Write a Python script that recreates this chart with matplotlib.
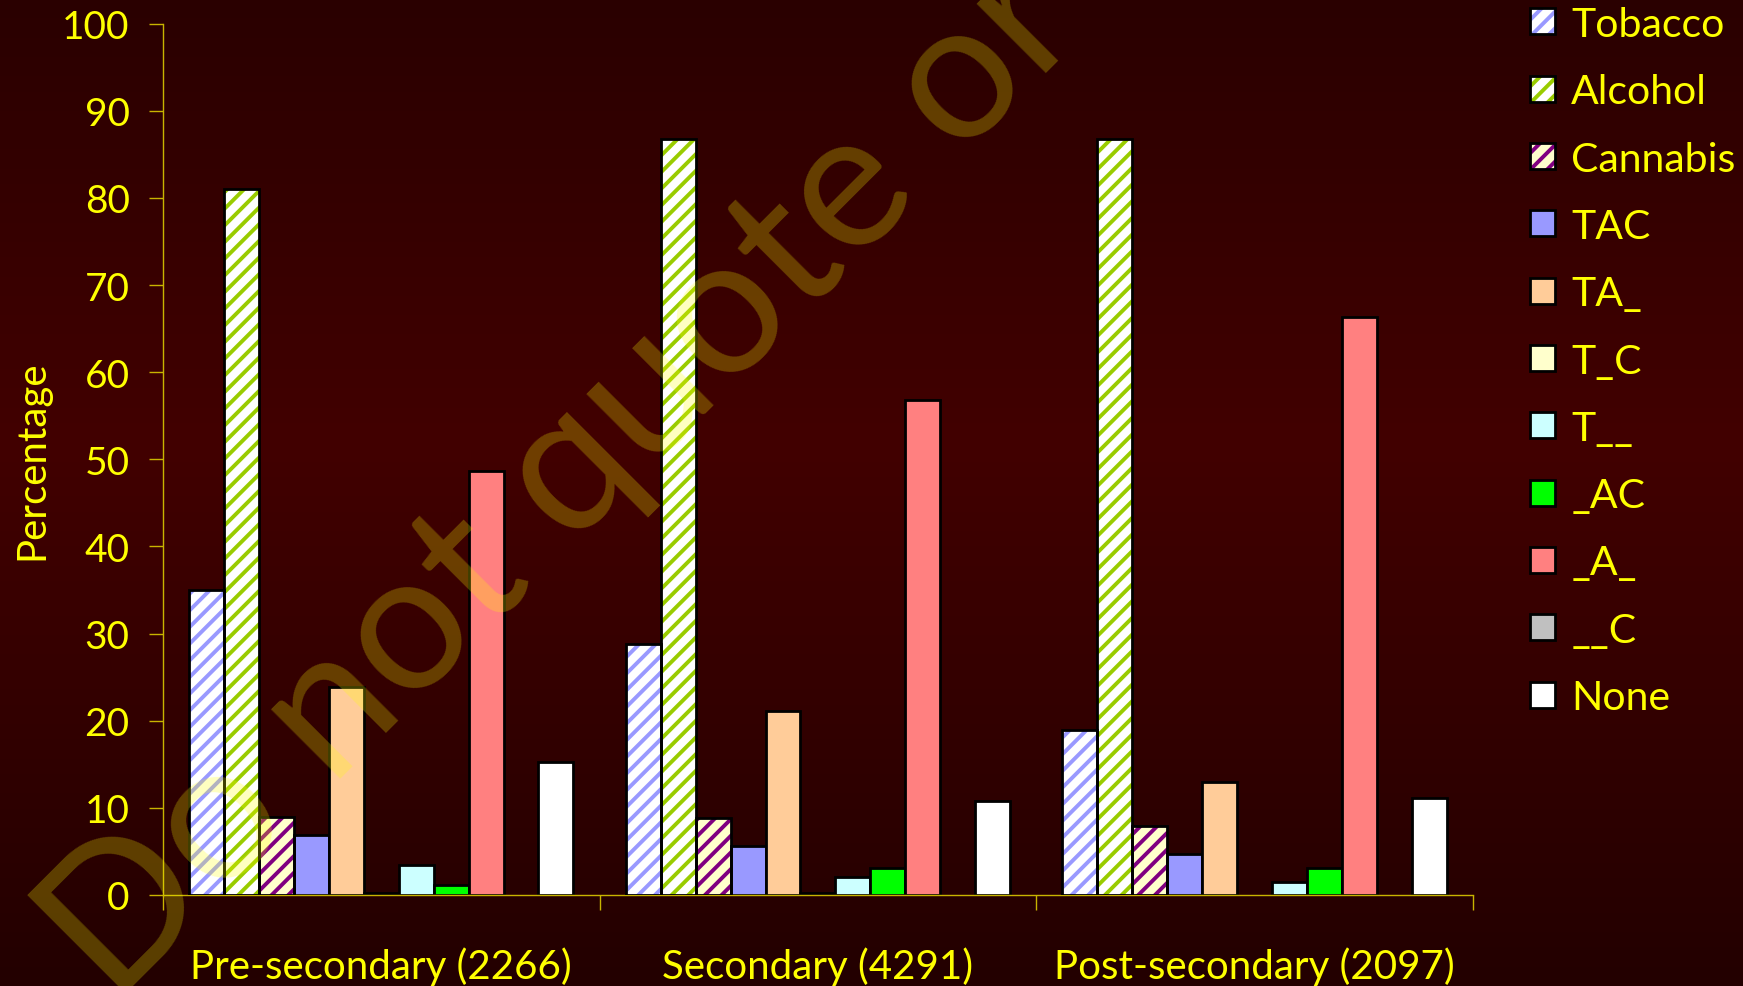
import numpy as np
import matplotlib
matplotlib.use("Agg")
import matplotlib.pyplot as plt
from matplotlib.patches import Patch
from matplotlib.legend_handler import HandlerTuple
from matplotlib.colors import LinearSegmentedColormap

# data (percent of each education group)
groups = ['Pre-secondary (2266)', 'Secondary (4291)', 'Post-secondary (2097)']
series = ['Tobacco', 'Alcohol', 'Cannabis', 'TAC', 'TA_', 'T_C', 'T__', '_AC', '_A_', '__C', 'None']
tobacco = [35.0, 28.8, 18.9]
alcohol = [81.0, 86.8, 86.8]
cannabis = [8.9, 8.8, 7.9]
tac = [6.9, 5.6, 4.7]
ta_ = [23.9, 21.1, 13.0]
t_c = [0.2, 0.2, np.nan]
t__ = [3.4, 2.1, 1.5]
_ac = [1.1, 3.1, 3.1]
_a_ = [48.7, 56.8, 66.3]
__c = [np.nan, np.nan, np.nan]
none = [15.3, 10.8, 11.1]
values = [tobacco, alcohol, cannabis, tac, ta_, t_c, t__, _ac, _a_, __c, none]

# fill colour, stripe colour (None = plain bar)
fills = ['#FFFFFF', '#FFFFFF', '#FFFFCC', '#9999FF', '#FFCC99', '#FFFFCC',
         '#CCFFFF', '#00FF00', '#FF8080', '#C0C0C0', '#FFFFFF']
stripes = ['#9999FF', '#99CC00', '#800080', None, None, None, None, None, None, None, None]

plt.rcParams['font.family'] = ['Lato', 'DejaVu Sans']
plt.rcParams['hatch.linewidth'] = 2.8

yellow = '#FFFF00'
axcol = '#C8B400'

fig = plt.figure(figsize=(17.43, 9.87), dpi=100)

# dark red gradient background
bg = fig.add_axes([0, 0, 1, 1], zorder=-1)
cmap = LinearSegmentedColormap.from_list('bg', [(0, '#230000'), (0.55, '#420000'), (1, '#2A0000')])
bg.imshow(np.linspace(0, 1, 256).reshape(-1, 1), aspect='auto', cmap=cmap, origin='lower',
          extent=[0, 1, 0, 1])
bg.set_axis_off()

ax = fig.add_axes([0.0935, 0.0922, 0.7515, 0.8828])
ax.patch.set_alpha(0)

x = np.arange(len(groups))
w = 1 / (len(series) + 1.5)
handles = []
for i, (name, vals) in enumerate(zip(series, values)):
    pos = x + (i - (len(series) - 1) / 2) * w
    if stripes[i]:
        ax.bar(pos, vals, w, color=fills[i], edgecolor=stripes[i], hatch='//', linewidth=0, zorder=2)
        ax.bar(pos, vals, w, facecolor='none', edgecolor='black', linewidth=2, zorder=3)
        h = (Patch(facecolor=fills[i], edgecolor=stripes[i], hatch='//', linewidth=0),
             Patch(facecolor='none', edgecolor='black', linewidth=2))
    else:
        ax.bar(pos, vals, w, color=fills[i], edgecolor='black', linewidth=2, zorder=2)
        h = Patch(facecolor=fills[i], edgecolor='black', linewidth=2)
    handles.append(h)

ax.set_xlim(-0.5, len(groups) - 0.5)
ax.set_ylim(0, 100)
ax.set_yticks(np.arange(0, 101, 10))
ax.set_xticks(np.arange(-0.5, len(groups)))
ax.set_xticklabels([])
ax.set_xticks(x, minor=True)
ax.set_xticklabels(groups, minor=True)
ax.tick_params(axis='x', which='major', direction='out', length=11, width=1, color=axcol)
ax.tick_params(axis='x', which='minor', length=0, pad=37, labelsize=29, labelcolor=yellow)
ax.tick_params(axis='y', direction='out', length=10, width=1, color=axcol, pad=14,
               labelsize=28, labelcolor=yellow)
for s in ['top', 'right']:
    ax.spines[s].set_visible(False)
for s in ['left', 'bottom']:
    ax.spines[s].set_color(axcol)
    ax.spines[s].set_linewidth(1)
ax.set_ylabel('Percentage', color=yellow, fontsize=29)
ax.yaxis.set_label_coords(-0.086, 0.5)

ax.legend(handles, series, loc='upper left', bbox_to_anchor=(0.878, 0.993),
          bbox_transform=fig.transFigure, frameon=False, fontsize=29.5, labelcolor=yellow,
          handlelength=0.6, handleheight=0.6, handletextpad=0.4, labelspacing=0.74,
          borderaxespad=0, borderpad=0, handler_map={tuple: HandlerTuple(ndivide=1, pad=0)})

# watermark
fig.text(0.065, -0.019, 'Do not quote or cite', rotation=45, rotation_mode='anchor',
         ha='left', va='baseline', fontsize=140, color=yellow, alpha=0.25, zorder=10)

fig.savefig('out.png', dpi=100)
